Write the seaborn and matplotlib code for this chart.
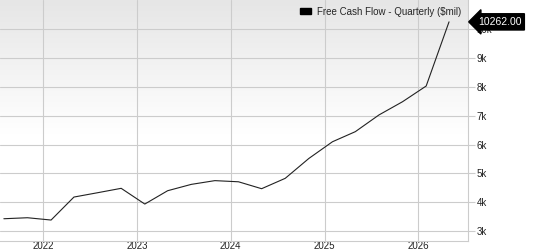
import numpy as np
import pandas as pd
import seaborn as sns
import matplotlib.pyplot as plt
import matplotlib.dates as mdates
from matplotlib.colors import LinearSegmentedColormap
from matplotlib.patches import Patch
from matplotlib.ticker import FixedLocator, FuncFormatter

# quarterly data
dates = ["2021-07-31", "2021-10-31", "2022-01-31", "2022-04-30", "2022-07-31",
         "2022-10-31", "2023-01-31", "2023-04-30", "2023-07-31", "2023-10-31",
         "2024-01-31", "2024-04-30", "2024-07-31", "2024-10-31", "2025-01-31",
         "2025-04-30", "2025-07-31", "2025-10-31", "2026-01-31", "2026-04-30"]
fcf = [3427, 3462, 3382, 4180, 4330, 4483, 3937, 4400, 4620, 4750,
       4710, 4470, 4830, 5520, 6100, 6450, 7030, 7490, 8035, 10262]
y_ticks = [3000, 4000, 5000, 6000, 7000, 8000, 9000, 10000]
series_name = "Free Cash Flow - Quarterly ($mil)"

df = pd.DataFrame({"date": pd.to_datetime(dates), "fcf": fcf})

sns.set_style("white")
plt.rcParams['font.family'] = ['Liberation Sans', 'DejaVu Sans']

fig = plt.figure(figsize=(5.49, 2.5), dpi=100)
ax = fig.add_axes([0.0, 0.037, 0.8525, 0.963])

# grey-to-white gradient background
grad = np.clip(np.linspace(0.0, 1.0, 256) * 1.8, 0, 1).reshape(-1, 1)
ax.imshow(grad, extent=[0, 1, 0, 1], transform=ax.transAxes, aspect='auto',
          cmap=LinearSegmentedColormap.from_list("bg", ["#e6e6e6", "#ffffff"]),
          zorder=0)

sns.lineplot(data=df, x="date", y="fcf", ax=ax, color="#222222",
             linewidth=0.8, legend=False, zorder=3)

ax.set_xlim(pd.Timestamp("2021-07-16"), pd.Timestamp("2026-07-13"))
ax.set_ylim(2663, 11021)

ax.xaxis.set_major_locator(mdates.YearLocator())
ax.xaxis.set_major_formatter(mdates.DateFormatter("%Y"))
ax.yaxis.set_major_locator(FixedLocator(y_ticks))
ax.yaxis.set_major_formatter(FuncFormatter(lambda v, p: f"{int(v/1000)}k"))
ax.yaxis.tick_right()

ax.grid(True, color="#cccccc", linewidth=0.8, zorder=1)
ax.set_axisbelow(True)
for s in ["left", "top"]:
    ax.spines[s].set_visible(False)
for s in ["right", "bottom"]:
    ax.spines[s].set_color("#cccccc")
    ax.spines[s].set_linewidth(0.8)

ax.tick_params(axis="y", which="both", right=True, length=5, width=0.8,
               color="#cccccc", labelsize=7, pad=1, labelcolor="#222222")
ax.tick_params(axis="x", bottom=False, length=0, labelsize=7, pad=0.5,
               labelcolor="#222222")
ax.set_xlabel("")
ax.set_ylabel("")

ax.legend(handles=[Patch(facecolor="black", edgecolor="black", label=series_name)],
          loc="upper right", frameon=False, fontsize=7,
          handlelength=1.1, handleheight=0.55, borderaxespad=0.3,
          handletextpad=0.6)

# last value tag
last = df["fcf"].iloc[-1]
ax.annotate(f"{last:.2f}", xy=(1.0, last), xycoords=("axes fraction", "data"),
            xytext=(7, 0), textcoords="offset points", va="center", ha="left",
            fontsize=7.5, color="white", annotation_clip=False,
            bbox=dict(boxstyle="larrow,pad=0.3", fc="black", ec="black"))

fig.savefig("out.png", dpi=100)
